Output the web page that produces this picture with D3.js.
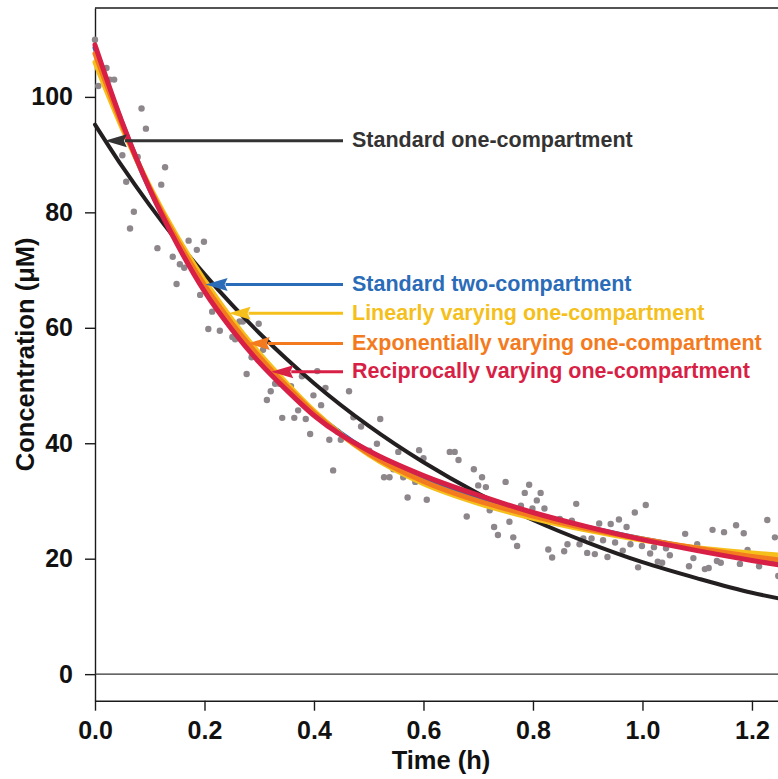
<!DOCTYPE html>
<html>
<head>
<meta charset="utf-8">
<script src="https://cdn.jsdelivr.net/npm/d3@7"></script>
<style>
    body { margin: 0; background: #fff; }
    svg { display: block; }
    text { font-family: "Liberation Sans", Arial, Helvetica, sans-serif; font-weight: bold; }
</style>
</head>
<body>
<svg id="viz"></svg>
<script>

// ---------------------------
// Data
// ---------------------------

// observed concentrations (h, uM)
const obsTime = [0.000,0.006,0.021,0.027,0.035,0.044,0.050,0.057,0.064,0.071,
    0.078,0.085,0.093,0.114,0.121,0.128,0.142,0.149,0.155,0.163,
    0.171,0.186,0.192,0.199,0.207,0.214,0.228,0.251,0.256,0.264,
    0.270,0.277,0.286,0.299,0.307,0.314,0.321,0.329,0.337,0.342,
    0.358,0.364,0.371,0.378,0.385,0.393,0.399,0.406,0.413,0.421,
    0.428,0.435,0.443,0.449,0.464,0.472,0.486,0.493,0.501,0.515,
    0.521,0.528,0.538,0.545,0.554,0.563,0.571,0.577,0.585,0.592,
    0.600,0.606,0.648,0.657,0.664,0.679,0.692,0.700,0.707,0.714,
    0.721,0.729,0.736,0.750,0.757,0.764,0.771,0.778,0.785,0.793,
    0.799,0.807,0.814,0.821,0.828,0.835,0.849,0.857,0.863,0.871,
    0.879,0.885,0.892,0.899,0.907,0.913,0.921,0.928,0.936,0.942,
    0.950,0.957,0.964,0.971,0.978,0.986,0.992,0.999,1.006,1.014,
    1.021,1.028,1.036,1.043,1.050,1.078,1.085,1.093,1.100,1.114,
    1.121,1.128,1.136,1.143,1.149,1.171,1.178,1.185,1.192,1.213,
    1.228,1.242,1.248];

const obsConc = [109.9,101.9,105.0,103.0,103.0,96.6,89.9,85.3,77.2,80.1,
    89.6,98.0,94.5,73.8,84.8,87.8,72.3,67.6,71.0,70.4,
    75.1,73.5,65.7,74.9,59.8,62.8,59.5,58.4,58.0,61.1,
    61.1,52.0,54.9,60.7,56.2,47.5,49.0,50.3,50.3,44.4,
    49.9,44.4,45.7,51.6,44.2,41.6,48.3,52.5,46.6,49.6,
    40.6,35.3,42.0,40.6,49.0,44.5,42.9,38.7,38.7,39.9,
    44.2,34.1,34.1,35.5,38.5,34.1,30.6,34.7,33.3,38.8,
    37.4,30.2,38.5,38.5,37.1,27.3,35.5,32.7,34.1,32.4,
    28.4,25.5,24.1,33.3,26.4,23.7,22.2,29.2,31.4,32.8,
    28.7,30.1,31.4,28.7,21.6,20.2,26.9,21.3,22.5,26.6,
    29.5,22.5,23.5,21.0,23.5,20.8,26.1,23.2,20.3,26.0,
    22.8,26.8,21.4,25.5,22.5,28.0,18.5,22.2,29.3,20.9,
    22.0,19.5,19.3,21.8,20.6,24.3,18.7,20.1,22.5,18.2,
    18.4,25.0,19.6,19.3,24.6,25.8,19.1,24.4,21.5,18.7,
    26.7,23.7,17.0];

// fitted model curves, read at these times
const curveTime = [0,0.05,0.1,0.15,0.2,0.25,0.3,0.35,0.4,0.5,0.6,0.7,0.8,0.9,1.0,1.1,1.2,1.25];

const stdOneComp  = [95.2,87.9,81.2,75.0,69.3,64.0,59.1,54.6,50.4,43.0,36.7,31.3,26.7,22.8,19.4,16.6,14.1,13.1];
const stdTwoComp  = [108.5,95.3,84.0,74.8,67.0,60.4,54.7,49.8,45.4,38.5,33.7,30.3,27.6,25.4,23.4,21.7,20.0,19.3];
const linVarying  = [106.0,94.5,84.5,75.8,68.2,61.5,55.6,50.4,45.6,38.0,33.0,29.6,27.0,24.9,23.2,21.9,21.0,20.6];
const expVarying  = [107.5,95.0,84.2,75.2,67.4,60.8,55.0,49.9,45.3,38.2,33.4,30.0,27.4,25.2,23.4,21.8,20.4,19.8];
const recVarying  = [109.0,95.5,84.0,74.5,66.3,59.7,54.0,49.2,44.8,38.7,34.4,31.0,28.0,25.5,23.3,21.4,19.7,18.9];

const modelNames = [
    "Standard one-compartment",
    "Standard two-compartment",
    "Linearly varying one-compartment",
    "Exponentially varying one-compartment",
    "Reciprocally varying one-compartment"
];

// where each label arrow points (time, concentration)
const arrowTime = [0.018, 0.202, 0.244, 0.279, 0.322];
const arrowConc = [92.4, 67.5, 62.5, 57.3, 52.4];

const xTicks = [0, 0.2, 0.4, 0.6, 0.8, 1.0, 1.2];
const yTicks = [0, 20, 40, 60, 80, 100];

const lineColors = ["#231f20", "#2b6cb8", "#f5bf1c", "#f47a20", "#d81f45"];
const textColors = ["#333333", "#2b6cb8", "#f5bf1c", "#f47a20", "#d81f45"];

// ---------------------------
// Create SVG
// ---------------------------

const svg = d3.select("#viz");

const width = 778;
const height = 779;

svg
    .attr("width", width)
    .attr("height", height)
    .attr("viewBox", `0 0 ${width} ${height}`);

const x = d3.scaleLinear().domain([0, 1.264]).range([95, 787]);
const y = d3.scaleLinear().domain([-4.6, 115.4]).range([700.7, 8]);

const axisColor = "#1a1a1a";

// ---------------------------
// Axes
// ---------------------------

const gy = svg.append("g")
    .attr("transform", `translate(${x(0)},0)`)
    .call(d3.axisLeft(y)
        .tickValues(yTicks)
        .tickFormat(d3.format("d"))
        .tickSize(10)
        .tickSizeOuter(0)
        .tickPadding(12));

const gx = svg.append("g")
    .attr("transform", `translate(0,${y.range()[0]})`)
    .call(d3.axisBottom(x)
        .tickValues(xTicks)
        .tickFormat(d3.format(".1f"))
        .tickSize(10)
        .tickSizeOuter(0)
        .tickPadding(11));

[gx, gy].forEach(g => {
    g.selectAll("path, line").attr("stroke", axisColor).attr("stroke-width", 1.4);
    g.selectAll("text")
        .attr("font-size", 25)
        .attr("fill", "#111");
});

// top border
svg.append("line")
    .attr("x1", x(0)).attr("x2", x.range()[1])
    .attr("y1", y.range()[1]).attr("y2", y.range()[1])
    .attr("stroke", axisColor)
    .attr("stroke-width", 1.4);

// zero line
svg.append("line")
    .attr("x1", x(0)).attr("x2", x.range()[1])
    .attr("y1", y(0)).attr("y2", y(0))
    .attr("stroke", "#333")
    .attr("stroke-width", 1.1);

svg.append("text")
    .attr("x", (x.range()[0] + x.range()[1]) / 2)
    .attr("y", 769)
    .attr("text-anchor", "middle")
    .attr("font-size", 25.5)
    .attr("fill", "#111")
    .text("Time (h)");

svg.append("text")
    .attr("transform", `translate(34,${(y.range()[0] + y.range()[1]) / 2}) rotate(-90)`)
    .attr("text-anchor", "middle")
    .attr("font-size", 25.5)
    .attr("fill", "#111")
    .text("Concentration (μM)");

// ---------------------------
// Observations
// ---------------------------

svg.append("g")
    .selectAll("circle")
    .data(obsTime.map((t, i) => [t, obsConc[i]]))
    .join("circle")
    .attr("cx", d => x(d[0]))
    .attr("cy", d => y(d[1]))
    .attr("r", 3.2)
    .attr("fill", "#8d878c");

// ---------------------------
// Model curves
// ---------------------------

const series = [stdOneComp, stdTwoComp, linVarying, expVarying, recVarying];

const line = d3.line()
    .x(d => x(d[0]))
    .y(d => y(d[1]))
    .curve(d3.curveMonotoneX);

series.forEach((vals, i) => {
    svg.append("path")
        .datum(curveTime.map((t, j) => [t, vals[j]]))
        .attr("d", line)
        .attr("fill", "none")
        .attr("stroke", lineColors[i])
        .attr("stroke-width", i === 0 ? 4 : 5)
        .attr("stroke-linecap", "round");
});

// ---------------------------
// Labels with arrows
// ---------------------------

const lineEnd = 343;
const textStart = 352;
const headLen = 22;

modelNames.forEach((name, i) => {

    const tipX = x(arrowTime[i]);
    const ay = y(arrowConc[i]);

    svg.append("line")
        .attr("x1", tipX + headLen - 2).attr("x2", lineEnd)
        .attr("y1", ay).attr("y2", ay)
        .attr("stroke", i === 0 ? "#333" : lineColors[i])
        .attr("stroke-width", 3);

    svg.append("path")
        .attr("d", `M${tipX},${ay} L${tipX + headLen},${ay - 6.5} L${tipX + headLen - 3},${ay} L${tipX + headLen},${ay + 6.5} Z`)
        .attr("fill", i === 0 ? "#333" : lineColors[i]);

    svg.append("text")
        .attr("x", textStart)
        .attr("y", ay - 1.5)
        .attr("dy", "0.36em")
        .attr("font-size", 21.5)
        .attr("fill", textColors[i])
        .text(name);

});

</script>
</body>
</html>
